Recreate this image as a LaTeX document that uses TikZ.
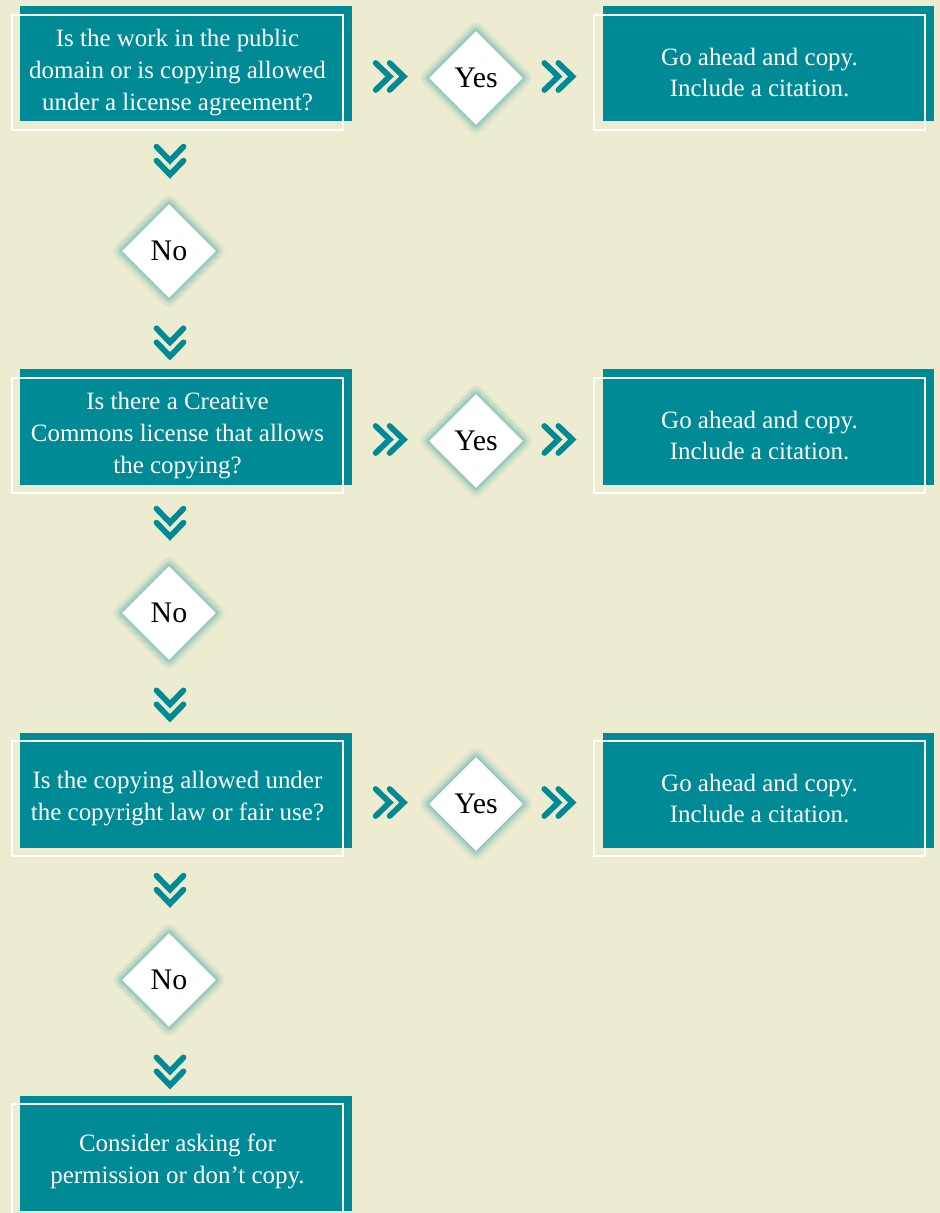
\documentclass[tikz,border=0pt]{standalone}
\usepackage{fontspec}
\setmainfont{Liberation Serif}
\usetikzlibrary{shapes.geometric, shadows, calc, positioning}
\definecolor{tealc}{RGB}{0,138,150}
\definecolor{paper}{RGB}{237,236,208}

\begin{document}
\begin{tikzpicture}[
    x=0.2mm, y=-0.2mm,
    box style/.style={draw=white, line width=1.1pt, minimum width=66.2mm,
        minimum height=23mm, inner sep=0pt, align=center, text=white,
        font=\fontsize{14.2}{18.1}\selectfont,
        general shadow={fill=tealc, shadow xshift=1.7mm, shadow yshift=1.7mm}},
    choice style/.style={diamond, fill=white, minimum size=18.8mm, inner sep=0pt,
        font=\fontsize{17}{20}\selectfont, line join=round,
        preaction={draw=tealc, draw opacity=.05, line width=3.6mm},
        preaction={draw=tealc, draw opacity=.07, line width=2.8mm},
        preaction={draw=tealc, draw opacity=.09, line width=2mm},
        preaction={draw=tealc, draw opacity=.12, line width=1.2mm},
        preaction={draw=tealc, draw opacity=.15, line width=.5mm}},
    chevron/.pic={
        \draw[tealc, line width=1.15mm, line cap=round]
            (-14,-13.5) -- (0,0) -- (-14,13.5)
            (0,-13.5) -- (14,0) -- (0,13.5);
    }
]

% SAME SIZE AS THE REFERENCE
\fill[paper] (0,0) rectangle (940,1213);
\useasboundingbox (0,0) rectangle (940,1213);

% first question
\node[box style] (q1) at (177.5,72.5) {Is the work in the public\\domain or is copying allowed\\under a license agreement?};
\node[choice style] (y1) at (476,78) {Yes};
\node[box style] (g1) at (759.5,72.5) {Go ahead and copy.\\Include a citation.};
\node[choice style] (n1) at (169,251) {No};

% second question
\node[box style] (q2) at (177.5,435.5) {Is there a Creative\\Commons license that allows\\the copying?};
\node[choice style] (y2) at (476,441) {Yes};
\node[box style] (g2) at (759.5,435.5) {Go ahead and copy.\\Include a citation.};
\node[choice style] (n2) at (169,613) {No};

% third question
\node[box style] (q3) at (177.5,798.5) {Is the copying allowed under\\the copyright law or fair use?};
\node[choice style] (y3) at (476,804) {Yes};
\node[box style] (g3) at (759.5,798.5) {Go ahead and copy.\\Include a citation.};
\node[choice style] (n3) at (169,980) {No};

\node[box style] (end) at (177.5,1161.5) {Consider asking for\\permission or don't copy.};

\foreach \i in {1,2,3} {
    \pic at ($(y\i.west)+(-39,-1.5)$) {chevron};
    \pic at ($(y\i.east)+(35,-1.5)$) {chevron};
    \pic[rotate=-90] at ($(n\i.north)+(1,-43)$) {chevron};
    \pic[rotate=-90] at ($(n\i.south)+(1,44)$) {chevron};
}

\end{tikzpicture}
\end{document}
